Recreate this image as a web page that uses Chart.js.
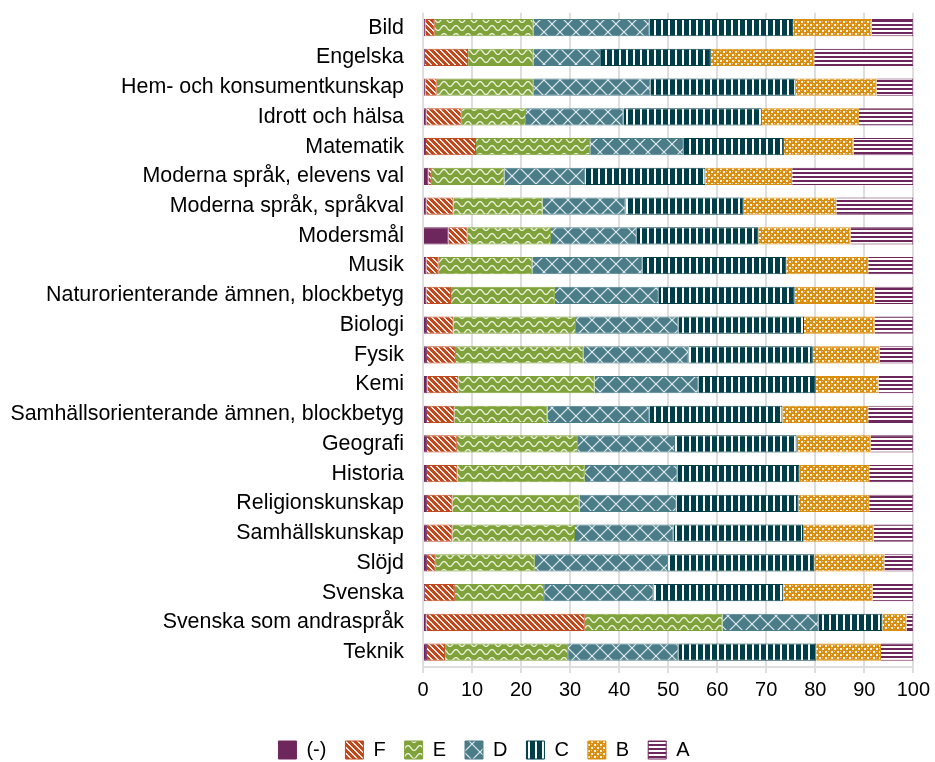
<!DOCTYPE html>
<html>
<head>
<meta charset="utf-8">
<script src="https://cdn.jsdelivr.net/npm/chart.js@4.4.0/dist/chart.umd.min.js"></script>
<style>
  body { margin: 0; background: #fff; }
</style>
</head>
<body>
<canvas id="myChart" width="935" height="762"></canvas>
<script>
// betyg per ämne, andel i procent
const subjects = ["Bild", "Engelska", "Hem- och konsumentkunskap", "Idrott och hälsa", "Matematik",
    "Moderna språk, elevens val", "Moderna språk, språkval", "Modersmål", "Musik",
    "Naturorienterande ämnen, blockbetyg", "Biologi", "Fysik", "Kemi",
    "Samhällsorienterande ämnen, blockbetyg", "Geografi", "Historia", "Religionskunskap",
    "Samhällskunskap", "Slöjd", "Svenska", "Svenska som andraspråk", "Teknik"];
const grades = ["(-)", "F", "E", "D", "C", "B", "A"];

const dash = [0.5, 0.4, 0.5, 0.7, 0.6, 1.1, 0.7, 5.2, 0.7, 0.7, 0.8, 0.8, 0.9, 0.8, 0.8, 0.8, 0.8, 0.8, 0.8, 0.4, 0.7, 0.8];
const gradeF = [1.9, 8.8, 2.3, 7.2, 10.2, 0.7, 5.5, 3.9, 2.5, 5.0, 5.4, 5.9, 6.3, 5.6, 6.1, 6.2, 5.2, 5.2, 1.8, 6.1, 32.3, 3.7];
const gradeE = [20.1, 13.3, 19.8, 13.1, 23.3, 14.8, 18.2, 17.0, 19.1, 21.2, 25.0, 26.0, 27.8, 19.0, 24.7, 26.0, 25.9, 25.0, 20.2, 18.2, 28.1, 25.1];
const gradeD = [23.7, 13.8, 23.8, 19.9, 19.1, 16.5, 16.9, 17.5, 22.5, 21.2, 20.9, 21.5, 21.2, 20.8, 19.8, 18.9, 19.8, 20.1, 27.2, 22.3, 19.6, 22.5];
const gradeC = [29.3, 22.4, 29.6, 28.2, 20.4, 24.5, 24.1, 24.8, 29.3, 27.7, 25.6, 25.3, 23.9, 27.1, 24.8, 24.9, 24.9, 26.4, 29.8, 26.5, 13.0, 28.1];
const gradeB = [16.0, 21.1, 16.5, 19.8, 14.2, 17.7, 18.9, 18.8, 16.7, 16.3, 14.4, 13.6, 12.8, 17.5, 15.1, 14.2, 14.4, 14.4, 14.3, 18.2, 4.9, 13.2];
const gradeA = [8.5, 20.2, 7.5, 11.1, 12.2, 24.7, 15.7, 12.8, 9.2, 7.9, 7.9, 6.9, 7.1, 9.2, 8.7, 9.0, 9.0, 8.1, 5.9, 8.3, 1.4, 6.6];
const xTicks = [0, 10, 20, 30, 40, 50, 60, 70, 80, 90, 100];

const colors = ["#6e275d", "#c0481d", "#80a23a", "#4b7d89", "#003f4a", "#d98e10", "#6e275d"];

// small tile -> canvas pattern
function makePattern(w, h, bg, draw) {
    var c = document.createElement("canvas");
    c.width = w;
    c.height = h;
    var g = c.getContext("2d");
    g.fillStyle = bg;
    g.fillRect(0, 0, w, h);
    g.fillStyle = "rgba(255,255,255,0.9)";
    g.strokeStyle = "rgba(255,255,255,0.85)";
    draw(g, w, h);
    return g.createPattern(c, "repeat");
}

const patterns = [
    colors[0],
    // F: diagonal stripes
    makePattern(6, 6, colors[1], (g) => {
        for (var i = 0; i < 6; i++) {
            g.fillRect(i, i, 1, 1);
            g.fillRect((i + 1) % 6, i, 1, 1);
        }
    }),
    // E: waves
    makePattern(12, 8, colors[2], (g) => {
        g.lineWidth = 1.3;
        g.beginPath();
        for (var x = -1; x <= 13; x += 0.5) {
            var y = 4 - 2.4 * Math.cos(2 * Math.PI * x / 12);
            if (x === -1) g.moveTo(x, y); else g.lineTo(x, y);
        }
        g.stroke();
    }),
    // D: diamonds
    makePattern(16, 16, colors[3], (g) => {
        g.lineWidth = 1.2;
        g.beginPath();
        g.moveTo(0, 0); g.lineTo(16, 16);
        g.moveTo(16, 0); g.lineTo(0, 16);
        g.stroke();
    }),
    // C: vertical stripes
    makePattern(7, 4, colors[4], (g) => {
        g.fillStyle = "#ffffff";
        g.fillRect(3, 0, 2, 4);
    }),
    // B: small dotted grid
    makePattern(6, 6, colors[5], (g) => {
        g.fillRect(0, 0, 2, 2);
        g.fillRect(3, 3, 2, 2);
        g.fillStyle = "rgba(255,255,255,0.5)";
        g.fillRect(3, 0, 1, 1);
        g.fillRect(0, 3, 1, 1);
    }),
    // A: horizontal stripes
    makePattern(4, 4, colors[6], (g) => {
        g.fillStyle = "#ffffff";
        g.fillRect(0, 2, 4, 2);
    })
];

const series = [dash, gradeF, gradeE, gradeD, gradeC, gradeB, gradeA];
const datasets = grades.map((name, i) => ({
    label: name,
    data: series[i],
    backgroundColor: patterns[i],
    borderColor: colors[i],
    borderWidth: 1,
    barPercentage: 0.58,
    categoryPercentage: 1.0
}));

const font = { family: "'Liberation Sans', Arial, sans-serif", size: 20 };
const labelFont = { family: "'Liberation Sans', Arial, sans-serif", size: 21.4 };

// legend sits a bit lower and right of center in the original
const legendShift = {
    id: "legendShift",
    afterLayout(chart) {
        chart.legend.top += 8;
        chart.legend.bottom += 8;
        chart.legend.left += 27;
        chart.legend.right += 27;
    }
};

new Chart(document.getElementById("myChart"), {
    type: "bar",
    data: { labels: subjects, datasets: datasets },
    plugins: [legendShift],
    options: {
        indexAxis: "y",
        responsive: false,
        animation: false,
        layout: { padding: { top: 12, right: 21, left: 0, bottom: 0 } },
        scales: {
            x: {
                stacked: true,
                min: 0,
                max: 100,
                afterBuildTicks: (scale) => { scale.ticks = xTicks.map((v) => ({ value: v })); },
                afterFit: (scale) => { scale.height = 46; },
                grid: { color: "#dedede", lineWidth: 2, tickLength: 6 },
                border: { color: "#dedede", width: 2 },
                ticks: { color: "#000", font: font, padding: 5 }
            },
            y: {
                stacked: true,
                afterFit: (scale) => { scale.width = 423; },
                // tickLength used as gap between labels and bars
                grid: { display: false, drawTicks: true, tickLength: 19 },
                border: { display: false },
                ticks: { color: "#000", font: labelFont, padding: 0, autoSkip: false }
            }
        },
        plugins: {
            tooltip: { enabled: false },
            legend: {
                position: "bottom",
                labels: {
                    color: "#000",
                    font: font,
                    boxWidth: 18,
                    boxHeight: 18,
                    padding: 19
                }
            }
        }
    }
});
</script>
</body>
</html>
